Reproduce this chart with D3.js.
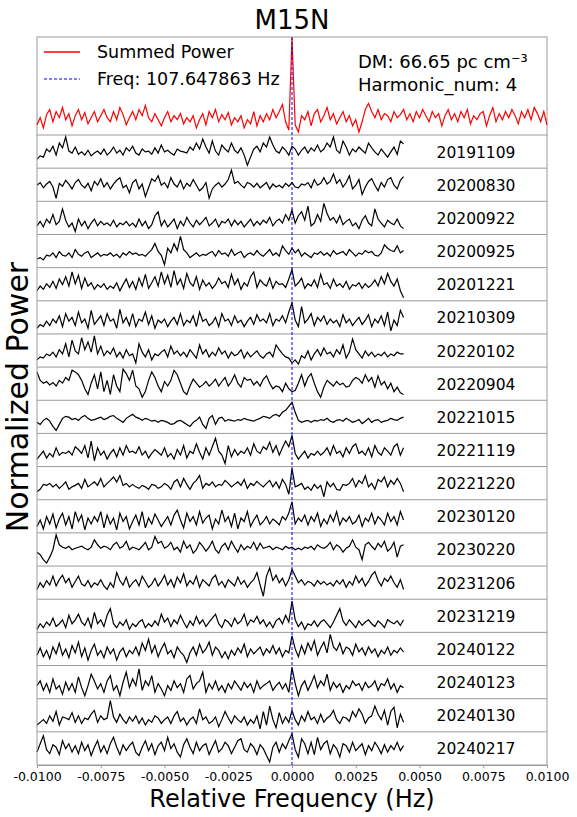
<!DOCTYPE html>
<html><head><meta charset="utf-8">
<script src="https://cdn.jsdelivr.net/npm/d3@7"></script>
<style>body{margin:0;background:#fff;}svg{display:block;font-family:"DejaVu Sans",sans-serif;}</style>
</head><body><div id="chart"></div>
<script>
const title = "M15N";
const xLabel = "Relative Frequency (Hz)";
const yLabel = "Normalized Power";
const legendLabels = ["Summed Power", "Freq: 107.647863 Hz"];
const infoLines = ["DM: 66.65 pc cm\u207B\u00B3", "Harmonic_num: 4"];
const xTicks = [-0.01, -0.0075, -0.005, -0.0025, 0, 0.0025, 0.005, 0.0075, 0.01];
const xStart = -0.01, xStep = 0.000125;
const dates = ["20191109","20200830","20200922","20200925","20201221","20210309","20220102","20220904","20221015","20221119","20221220","20230120","20230220","20231206","20231219","20240122","20240123","20240130","20240217"];

const summed = [15,22,12,25,30,18,28,22,32,20,26,14,24,30,20,27,16,22,28,18,24,30,22,18,28,20,32,25,15,22,28,20,30,24,34,22,18,26,20,14,22,28,18,24,20,26,16,22,18,24,12,20,26,15,28,22,30,18,25,20,27,15,22,18,24,12,20,16,28,14,24,18,26,20,30,22,28,35,18,10,100,15,8,24,20,28,14,26,30,18,24,32,20,26,16,22,28,18,24,14,20,8,18,30,36,28,22,30,20,26,24,18,28,22,25,30,20,26,18,28,22,30,24,18,28,22,26,14,24,30,20,26,18,28,22,30,16,24,20,26,28,14,24,32,18,26,20,28,22,30,24,16,28,22,30,20,32,26,18,28,15];

const s20191109 = [30,38,35,55,48,62,40,70,58,85,50,45,60,42,48,40,52,38,45,50,42,55,40,48,60,45,52,40,58,50,62,45,40,55,48,50,42,58,45,65,48,52,45,40,55,50,48,45,60,52,70,55,80,60,45,75,50,40,65,55,48,70,52,45,58,40,15,35,55,62,48,70,60,85,65,50,45,60,52,40,62,55,40,52,60,45,58,50,65,48,55,70,60,85,52,45,75,60,40,55,48,60,52,45,70,58,48,40,55,45,35,48,60,42,75,68];
const s20200830 = [55,62,48,58,65,50,20,60,52,68,58,45,62,70,55,48,60,40,65,55,72,50,62,45,58,68,75,48,55,35,62,70,45,58,25,48,72,65,80,55,62,48,75,58,50,68,45,60,52,70,55,40,48,62,20,45,55,62,50,58,70,95,60,65,55,48,62,58,50,60,48,55,62,45,58,50,55,48,60,52,62,50,48,58,55,62,48,70,55,60,75,58,65,85,60,70,50,62,80,45,55,70,30,50,65,72,55,40,62,50,70,75,55,45,68,78];
const s20200922 = [50,58,48,62,55,70,52,58,80,60,48,55,40,62,50,58,45,55,62,50,58,52,55,50,60,48,55,52,58,50,55,48,62,50,58,45,52,68,75,50,60,48,55,62,45,58,50,65,55,48,60,52,58,65,50,55,62,48,58,55,62,50,60,52,58,48,55,62,50,58,52,60,55,65,50,58,62,55,70,60,78,55,68,75,60,85,50,55,70,58,90,72,60,65,55,68,52,58,62,50,55,45,60,68,55,50,80,62,55,48,60,55,52,62,50,45];
const s20200925 = [42,45,40,50,48,55,45,58,50,48,55,45,62,52,48,55,58,45,50,55,48,52,50,55,48,52,45,55,50,58,52,55,50,52,48,55,62,75,58,50,30,65,55,75,60,90,62,55,45,50,55,48,52,50,55,58,48,60,52,55,48,62,50,55,58,45,52,55,50,60,52,48,55,62,50,55,48,70,60,52,65,55,62,48,55,50,45,55,52,58,50,55,48,60,52,55,58,50,62,55,48,55,52,60,55,58,50,48,55,72,65,60,58,70,55,60];
const s20201221 = [45,55,48,60,52,65,50,70,58,75,55,85,60,78,50,72,55,62,48,58,52,60,48,55,50,62,45,58,70,52,65,48,72,55,80,50,62,75,55,85,60,78,52,88,58,70,50,82,62,55,75,48,68,55,62,50,58,72,60,65,52,80,58,70,48,62,55,75,85,52,68,60,55,72,50,65,58,60,52,70,90,55,62,72,50,60,55,68,52,80,58,62,50,70,55,60,52,65,48,58,55,62,50,60,52,58,68,55,75,60,82,65,55,70,45,30];
const s20210309 = [45,52,48,58,50,62,55,68,48,72,58,65,50,75,55,62,45,78,52,60,68,50,72,58,62,45,80,55,65,50,72,48,62,58,75,52,68,45,60,55,62,48,58,65,52,72,50,60,55,68,48,75,58,62,50,55,65,48,72,58,62,50,68,55,60,48,58,65,52,70,58,62,55,72,50,62,58,68,55,75,92,60,48,85,55,62,72,50,65,58,68,52,62,55,60,48,70,55,62,50,58,65,52,60,70,48,62,55,68,50,75,40,60,50,78,65];
const s20220102 = [45,50,48,55,52,58,50,62,55,72,50,78,60,55,82,62,75,58,85,55,68,52,60,55,65,50,58,48,62,52,55,40,72,58,50,62,45,55,52,58,62,50,68,55,60,52,58,50,62,55,48,70,55,62,50,58,52,65,55,60,48,58,52,55,62,48,58,50,55,60,52,48,55,58,50,70,62,55,50,48,40,45,38,52,48,60,45,55,62,52,65,55,58,50,62,55,70,48,58,80,62,55,48,60,52,58,50,55,52,58,50,55,52,58,55,55];
const s20220904 = [75,60,55,58,52,56,50,60,55,65,60,78,75,70,60,45,35,55,70,45,75,40,60,35,70,50,40,80,72,60,78,50,45,30,40,60,75,65,50,40,58,50,60,78,70,55,40,35,50,62,55,48,52,58,50,55,62,50,58,65,50,58,70,55,48,65,60,62,52,58,50,62,68,55,45,50,48,40,55,45,40,42,55,70,50,65,72,55,40,30,48,60,55,50,58,52,55,48,50,60,65,62,55,70,58,65,48,68,52,58,45,55,40,48,38,35];
const s20221015 = [45,40,50,55,48,35,25,40,55,60,58,52,55,50,58,62,55,50,52,55,58,52,55,60,62,55,50,45,55,60,65,58,55,50,55,52,48,50,45,50,48,45,40,42,48,50,45,40,35,45,50,58,40,30,55,62,40,55,58,48,52,50,48,52,50,55,52,50,48,52,55,60,58,55,62,65,60,70,75,85,95,70,50,45,48,50,45,50,48,52,50,55,48,45,50,52,48,55,50,45,48,52,42,48,55,45,50,52,45,48,50,55,52,50,55,58];
const s20221119 = [48,55,62,50,58,52,68,55,60,58,62,55,70,65,58,72,50,80,45,68,55,62,48,58,65,52,68,55,72,60,62,58,70,55,62,50,58,65,60,55,68,52,58,48,65,55,72,50,62,58,75,60,48,68,55,70,85,62,55,40,72,52,65,55,62,58,68,55,75,62,58,70,65,78,60,72,55,68,80,70,90,58,48,55,62,50,58,55,62,55,60,68,55,72,58,62,52,68,58,70,75,58,62,55,68,52,72,60,55,68,62,55,70,75,55,68];
const s20221220 = [45,50,60,58,62,55,60,52,58,65,50,55,58,62,52,70,55,60,65,58,72,55,62,68,75,65,78,58,62,55,60,55,52,58,55,50,60,58,52,55,62,58,50,65,70,55,72,60,50,62,68,78,52,62,58,65,55,60,58,68,62,55,60,65,58,70,52,62,58,66,60,55,62,68,55,65,52,70,60,40,92,55,58,62,50,55,48,60,52,58,35,65,55,62,50,48,60,58,62,72,55,68,62,78,55,62,50,70,65,75,55,68,60,72,62,45];
const s20230120 = [45,58,40,65,50,70,42,60,72,48,65,40,75,55,68,38,62,50,65,55,75,42,68,50,62,38,72,55,65,40,55,68,48,75,42,62,50,70,58,45,55,65,48,68,78,58,42,72,55,65,48,75,52,62,68,40,60,50,78,55,65,45,72,40,62,55,75,45,58,68,48,55,65,50,60,55,48,65,58,72,95,50,62,55,68,48,65,55,72,45,60,50,68,55,75,48,62,55,65,50,55,68,45,62,55,72,50,65,58,48,72,55,65,48,75,58];
const s20230220 = [50,45,35,28,40,55,85,65,60,58,62,55,58,60,62,58,55,60,75,65,58,62,60,55,65,70,58,62,72,55,60,58,55,62,70,55,60,82,68,72,58,62,70,55,60,50,72,58,65,48,55,70,62,52,60,72,55,48,62,68,55,72,60,50,65,55,62,58,70,55,68,58,60,62,55,60,58,55,62,58,60,55,58,55,60,58,62,55,65,60,58,62,70,55,65,60,50,58,62,75,60,55,35,65,70,62,55,68,60,72,52,58,70,40,62,65];
const s20231206 = [40,55,45,60,50,70,48,62,72,55,65,45,58,70,52,48,60,45,55,50,62,48,40,55,45,78,60,50,68,45,55,62,48,70,58,45,52,65,48,58,72,50,62,45,68,55,75,48,60,52,70,45,62,55,48,65,72,50,58,45,62,55,48,68,52,60,45,55,62,78,50,25,70,88,60,72,55,65,48,62,85,70,55,62,50,58,55,48,60,52,58,50,55,48,60,52,62,45,58,50,70,55,65,48,58,72,80,60,48,65,58,70,55,45,62,40];
const s20231219 = [45,55,48,58,52,65,50,55,62,48,70,55,62,72,58,52,65,48,75,55,62,50,70,82,55,48,58,52,62,45,55,50,58,62,48,55,50,60,52,72,58,65,50,62,55,70,58,48,60,52,68,55,62,50,58,65,72,55,48,62,58,50,65,55,60,72,52,62,58,68,55,62,50,58,48,60,65,55,70,58,95,62,50,58,45,55,52,60,50,58,62,55,48,58,70,82,60,52,62,55,48,60,52,58,62,55,50,60,55,48,62,58,55,60,52,62];
const s20240122 = [45,60,42,55,38,62,48,70,45,58,40,65,50,72,42,60,35,55,68,45,55,40,62,48,58,35,52,60,42,55,48,62,45,70,55,78,50,65,42,58,70,48,55,40,62,52,45,30,50,62,45,68,50,58,72,45,62,55,40,52,38,55,45,60,50,68,42,58,48,55,62,45,58,50,65,48,60,42,55,50,85,58,42,65,48,70,55,75,45,60,72,50,88,62,55,70,48,62,58,45,68,52,60,45,62,50,58,42,55,48,62,45,55,50,60,52];
const s20240123 = [55,62,48,58,45,65,50,55,42,60,48,58,45,68,52,40,55,72,62,50,58,45,62,70,48,55,40,60,75,52,65,55,80,48,62,55,70,45,58,50,40,55,48,62,52,58,45,65,70,50,58,62,75,45,58,50,62,48,55,45,58,50,62,55,48,60,52,58,45,62,50,55,58,62,48,55,60,50,58,45,82,58,40,55,62,48,58,70,52,62,55,72,48,60,52,58,45,55,50,62,55,58,48,60,52,55,62,48,58,55,65,50,58,45,55,52];
const s20240130 = [45,50,55,48,62,52,70,45,60,58,55,68,50,62,48,58,55,65,72,50,62,55,58,90,60,50,65,55,48,60,52,62,48,58,45,55,50,62,58,48,55,60,48,62,70,52,58,45,55,60,48,75,55,60,48,52,60,42,55,70,58,48,62,55,50,60,45,55,48,62,38,70,45,80,55,40,68,48,60,50,72,55,45,62,52,70,55,60,48,65,50,58,62,72,55,48,60,58,52,70,60,75,65,48,58,62,80,65,55,72,45,70,78,40,65,50];
const s20240217 = [45,62,78,50,42,60,55,40,68,52,62,45,58,42,65,48,60,38,55,68,45,58,42,62,75,55,40,60,48,58,65,45,38,55,68,48,62,40,58,65,48,75,52,62,45,35,60,72,55,42,65,48,58,62,40,55,68,45,52,65,58,42,55,68,72,50,45,62,55,40,60,52,38,25,55,65,45,62,52,68,82,50,35,72,62,42,65,40,75,50,62,68,42,60,52,35,62,58,45,65,48,55,62,40,58,48,65,55,42,60,45,58,50,65,48,58];

const series = [s20191109,s20200830,s20200922,s20200925,s20201221,s20210309,s20220102,s20220904,s20221015,s20221119,s20221220,s20230120,s20230220,s20231206,s20231219,s20240122,s20240123,s20240130,s20240217];

const W = 577, H = 817;
const left = 37, right = 547;
const topY = 37, topB = 135, stackB = 765;
const svg = d3.select("#chart").append("svg").attr("width", W).attr("height", H);

const x = d3.scaleLinear().domain([-0.01, 0.01]).range([left, right]);
const gray = "#9a9a9a";

// title
svg.append("text").attr("x", (left+right)/2).attr("y", 29).attr("text-anchor","middle")
  .attr("font-size", 26).text(title);

// top panel
svg.append("rect").attr("x", left).attr("y", topY).attr("width", right-left).attr("height", topB-topY)
  .attr("fill","none").attr("stroke", gray).attr("stroke-width", 1);
const yTop = d3.scaleLinear().domain(d3.extent(summed)).range([132, 38]);
svg.append("path").datum(summed)
  .attr("d", d3.line().x((d,i)=>x(xStart+i*0.000125)).y(d=>yTop(d)))
  .attr("fill","none").attr("stroke","#ff0000").attr("stroke-width",1.2);

// stacked panels
const band = d3.scaleBand().domain(dates).range([topB, stackB]).paddingInner(0).paddingOuter(0);
dates.forEach((dt, k) => {
  const y0 = band(dt), h = band.bandwidth();
  const data = series[k];
  const ys = d3.scaleLinear().domain(d3.extent(data)).range([y0+h-3, y0+2]);
  svg.append("path").datum(data)
    .attr("d", d3.line().x((d,i)=>x(xStart+i*xStep)).y(d=>ys(d)))
    .attr("fill","none").attr("stroke","#000").attr("stroke-width",1.2);
  svg.append("text").attr("x", 476).attr("y", y0+h/2+6).attr("text-anchor","middle")
    .attr("font-size", 15.5).text(dt);
  svg.append("line").attr("x1", left).attr("x2", right).attr("y1", y0+h).attr("y2", y0+h)
    .attr("stroke", gray).attr("stroke-width", 1);
});
svg.append("line").attr("x1", left).attr("x2", left).attr("y1", topB).attr("y2", stackB).attr("stroke", gray);
svg.append("line").attr("x1", right).attr("x2", right).attr("y1", topB).attr("y2", stackB).attr("stroke", gray);

// frequency line
svg.append("line").attr("x1", x(0)).attr("x2", x(0)).attr("y1", topY).attr("y2", stackB)
  .attr("stroke","#0000ff").attr("stroke-width",1).attr("stroke-dasharray","3,2");

// legend
svg.append("line").attr("x1",44).attr("x2",80).attr("y1",52).attr("y2",52).attr("stroke","#ff0000").attr("stroke-width",1.3);
svg.append("text").attr("x",97).attr("y",58).attr("font-size",17.5).text(legendLabels[0]);
svg.append("line").attr("x1",44).attr("x2",80).attr("y1",79).attr("y2",79).attr("stroke","#0000ff").attr("stroke-width",1.2).attr("stroke-dasharray","3,2");
svg.append("text").attr("x",97).attr("y",85).attr("font-size",17.5).text(legendLabels[1]);
infoLines.forEach((t,i)=>{
  svg.append("text").attr("x",358).attr("y",68+i*23).attr("font-size",18).text(t);
});

// x axis
const fmt = d => d3.format(".4f")(d).replace("\u2212","-");
const ax = svg.append("g").attr("transform",`translate(0,${stackB})`)
  .call(d3.axisBottom(x).tickValues(xTicks).tickFormat(fmt).tickSize(3).tickPadding(4));
ax.select(".domain").attr("stroke", gray);
ax.selectAll(".tick line").attr("stroke", gray);
ax.selectAll(".tick text").attr("font-size", 12.5).attr("font-family","DejaVu Sans").attr("fill","#000");

svg.append("text").attr("x",(left+right)/2).attr("y",807).attr("text-anchor","middle")
  .attr("font-size",24).text(xLabel);
svg.append("text").attr("transform",`translate(28,${(topY+stackB)/2 - 4}) rotate(-90)`)
  .attr("text-anchor","middle").attr("font-size",30).text(yLabel);
</script></body></html>
